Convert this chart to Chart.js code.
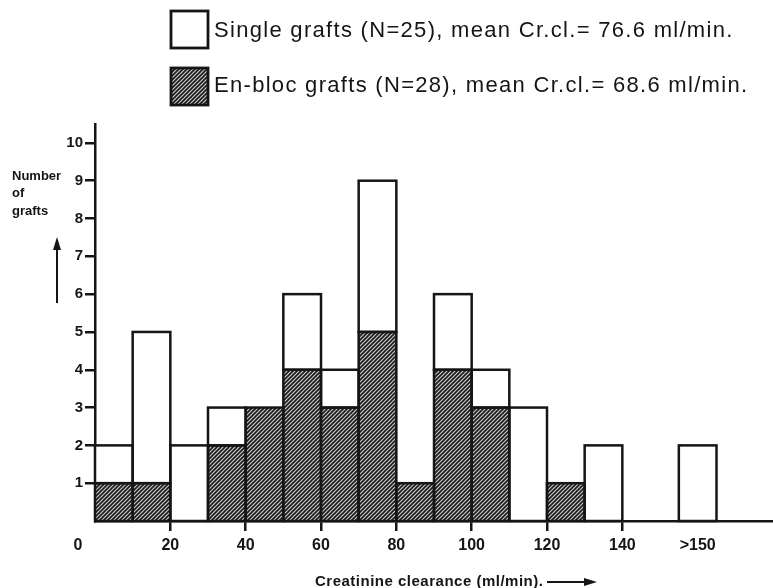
<!DOCTYPE html>
<html>
<head>
<meta charset="utf-8">
<script src="https://cdn.jsdelivr.net/npm/chart.js@4"></script>
<style>
  html, body { margin: 0; padding: 0; background: #fff; }
  #wrap { width: 773px; height: 588px; position: relative; }
</style>
</head>
<body>
<div id="wrap"><canvas id="histo" width="773" height="588"></canvas></div>
<script>
// creatinine clearance bins (ml/min), centre of each 10-wide bin; last one is the >150 group
const binCenters = [5, 15, 25, 35, 45, 55, 65, 75, 85, 95, 105, 115, 125, 135, 160];
const singleCounts = [1, 4, 2, 1, 0, 2, 1, 4, 0, 2, 1, 3, 0, 2, 2];
const enblocCounts = [1, 1, 0, 2, 3, 4, 3, 5, 1, 4, 3, 0, 1, 0, 0];

const xTickValues = [0, 20, 40, 60, 80, 100, 120, 140, 160];
const xTickLabels = ['0', '20', '40', '60', '80', '100', '120', '140', '>150'];
const yTickValues = [1, 2, 3, 4, 5, 6, 7, 8, 9, 10];

const singleLabel = 'Single grafts (N=25), mean Cr.cl.= 76.6 ml/min.';
const enblocLabel = 'En-bloc grafts (N=28), mean Cr.cl.= 68.6 ml/min.';

const INK = '#151515';
const FONT = "'Liberation Sans', Arial, Helvetica, sans-serif";

const canvas = document.getElementById('histo');
const ctx = canvas.getContext('2d');

function makeHatch() {
    let tile = document.createElement('canvas');
    tile.width = 4; tile.height = 4;
    let g = tile.getContext('2d');
    g.fillStyle = '#c8c8c8';
    g.fillRect(0, 0, 4, 4);
    g.strokeStyle = '#1a1a1a';
    g.lineWidth = 1.6;
    g.beginPath();
    g.moveTo(-1, 5); g.lineTo(5, -1);
    g.moveTo(-1, 1); g.lineTo(1, -1);
    g.moveTo(3, 5); g.lineTo(5, 3);
    g.stroke();
    return ctx.createPattern(tile, 'repeat');
}
const hatch = makeHatch();

function toPoints(vals) {
    return binCenters.map((x, i) => ({ x: x, y: vals[i] }));
}

// outlines each bar with a centred stroke so neighbouring bars share one edge
const barOutline = {
    id: 'barOutline',
    afterDatasetsDraw(chart) {
        const c = chart.ctx;
        c.save();
        c.strokeStyle = INK;
        c.lineWidth = 2.5;
        chart.data.datasets.forEach((ds, di) => {
            chart.getDatasetMeta(di).data.forEach(bar => {
                const p = bar.getProps(['x', 'y', 'base', 'width'], true);
                if (Math.abs(p.base - p.y) < 0.5) return;
                c.strokeRect(p.x - p.width / 2, Math.min(p.y, p.base), p.width, Math.abs(p.base - p.y));
            });
        });
        c.restore();
    }
};

// legend, axis captions, arrows and x labels
const decorations = {
    id: 'decorations',
    afterDraw(chart) {
        const c = chart.ctx;
        const xs = chart.scales.x;
        c.save();
        c.strokeStyle = INK;

        // legend
        c.lineWidth = 2.8;
        c.fillStyle = '#fff';
        c.fillRect(171, 11, 37, 37);
        c.strokeRect(171, 11, 37, 37);
        c.fillStyle = hatch;
        c.fillRect(171, 68, 37, 37);
        c.strokeRect(171, 68, 37, 37);
        c.fillStyle = INK;
        c.font = '22px ' + FONT;
        c.letterSpacing = '1.3px';
        c.textAlign = 'left';
        c.textBaseline = 'alphabetic';
        c.fillText(chart.data.datasets[1].label, 214, 37);
        c.fillText(chart.data.datasets[0].label, 214, 92);
        c.letterSpacing = '0px';

        // x tick labels
        c.font = 'bold 16px ' + FONT;
        c.textAlign = 'center';
        c.textBaseline = 'middle';
        xTickValues.forEach((v, i) => {
            let px = xs.getPixelForValue(v);
            if (v === 0) px -= 17;
            c.fillText(xTickLabels[i], px, 546);
        });

        // y caption
        c.font = 'bold 13px ' + FONT;
        c.textAlign = 'left';
        c.textBaseline = 'alphabetic';
        c.fillText('Number', 12, 180);
        c.fillText('of', 12, 197);
        c.fillText('grafts', 12, 215);
        c.lineWidth = 2;
        c.beginPath();
        c.moveTo(57, 303); c.lineTo(57, 246);
        c.stroke();
        c.beginPath();
        c.moveTo(57, 237); c.lineTo(53, 250); c.lineTo(61, 250); c.closePath();
        c.fill();

        // x caption
        c.font = 'bold 15px ' + FONT;
        c.letterSpacing = '0.5px';
        c.fillText('Creatinine clearance (ml/min).', 315, 586);
        c.letterSpacing = '0px';
        c.beginPath();
        c.moveTo(547, 582); c.lineTo(588, 582);
        c.stroke();
        c.beginPath();
        c.moveTo(597, 582); c.lineTo(584, 578); c.lineTo(584, 586); c.closePath();
        c.fill();
        c.restore();
    }
};

new Chart(ctx, {
    type: 'bar',
    data: {
        datasets: [
            { label: enblocLabel, data: toPoints(enblocCounts), backgroundColor: hatch, borderWidth: 0, stack: 'g' },
            { label: singleLabel, data: toPoints(singleCounts), backgroundColor: '#ffffff', borderWidth: 0, stack: 'g' }
        ]
    },
    options: {
        responsive: false,
        animation: false,
        barPercentage: 1,
        categoryPercentage: 1,
        layout: { padding: { top: 124, left: 0, right: 0, bottom: 0 } },
        plugins: { legend: { display: false }, tooltip: { enabled: false } },
        scales: {
            x: {
                type: 'linear',
                min: 0,
                max: 180,
                offset: false,
                stacked: true,
                afterBuildTicks: s => { s.ticks = xTickValues.map(v => ({ value: v })); },
                afterFit: s => { s.height = 67; },
                ticks: { display: false },
                grid: {
                    offset: false,
                    drawOnChartArea: false,
                    tickLength: 10,
                    lineWidth: 2.5,
                    color: c => (c.tick && (c.tick.value === 0 || c.tick.value === 160)) ? 'rgba(0,0,0,0)' : INK
                },
                border: { display: true, color: INK, width: 2.5 }
            },
            y: {
                min: 0,
                max: 10.5,
                stacked: true,
                afterBuildTicks: s => { s.ticks = yTickValues.map(v => ({ value: v })); },
                afterFit: s => { s.width = 95; },
                ticks: { color: INK, font: { family: FONT, size: 15, weight: 'bold' }, padding: 2 },
                grid: { drawOnChartArea: false, tickLength: 10, lineWidth: 2.5, color: INK },
                border: { display: true, color: INK, width: 2.5 }
            }
        }
    },
    plugins: [barOutline, decorations]
});
</script>
</body>
</html>
